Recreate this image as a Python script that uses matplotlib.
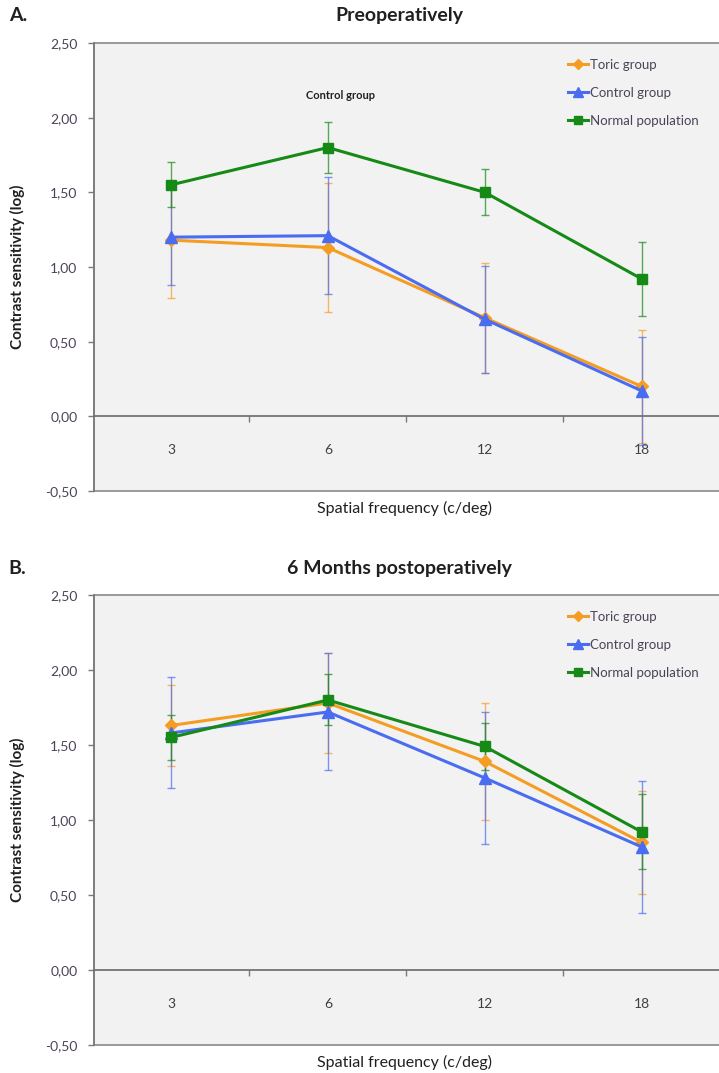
import matplotlib
matplotlib.use('Agg')
import matplotlib.pyplot as plt
from matplotlib.ticker import FuncFormatter, FixedLocator
import numpy as np

plt.rcParams['font.family'] = ['Lato', 'DejaVu Sans']

# spatial frequencies (c/deg)
freq_labels = ['3', '6', '12', '18']

# Preoperatively
pre_toric = [1.18, 1.13, 0.66, 0.20]
pre_toric_err = [0.39, 0.43, 0.37, 0.38]
pre_control = [1.20, 1.21, 0.65, 0.17]
pre_control_err = [0.32, 0.39, 0.36, 0.36]
pre_normal = [1.55, 1.80, 1.50, 0.92]
pre_normal_err = [0.15, 0.17, 0.155, 0.25]

# 6 months postoperatively
post_toric = [1.63, 1.78, 1.39, 0.85]
post_toric_err = [0.27, 0.335, 0.39, 0.345]
post_control = [1.58, 1.72, 1.28, 0.82]
post_control_err = [0.37, 0.39, 0.44, 0.44]
post_normal = [1.55, 1.80, 1.49, 0.92]
post_normal_err = [0.15, 0.17, 0.155, 0.25]

orange = '#f59d23'
blue = '#4a6cf0'
green = '#168a16'
txt_col = '#4d4358'

fig = plt.figure(figsize=(7.19, 10.73), dpi=100)
# plot area runs off the right edge of the image, as in the original
ax_a = fig.add_axes([0.1307, 0.5424, 0.8733, 0.4175])
ax_b = fig.add_axes([0.1307, 0.0261, 0.8733, 0.4194])

x = np.arange(1, len(freq_labels) + 1)


def draw_panel(ax, toric, toric_err, control, control_err, normal, normal_err):
    series = [
        (toric, toric_err, orange, 'D', 6, 'Toric group'),
        (control, control_err, blue, '^', 9, 'Control group'),
        (normal, normal_err, green, 's', 7, 'Normal population'),
    ]
    handles = []
    for vals, errs, col, mk, ms, lab in series:
        ax.errorbar(x, vals, yerr=errs, fmt='none', ecolor=col, elinewidth=1.0,
                    capsize=3, capthick=1.0, alpha=0.7, zorder=2)
        h, = ax.plot(x, vals, color=col, lw=2.2, marker=mk, markersize=ms,
                     markeredgecolor=col, label=lab, zorder=3)
        handles.append(h)

    ax.set_xlim(0.51, 4.51)
    ax.set_ylim(-0.5, 2.5)
    ax.set_facecolor('#f2f2f2')
    ax.patch.set_edgecolor('#8a8a8a')
    ax.patch.set_linewidth(1.2)

    for s in ['top', 'right']:
        ax.spines[s].set_visible(False)
    ax.spines['left'].set_color('#7a7a7a')
    ax.spines['left'].set_linewidth(1.2)
    ax.spines['bottom'].set_position(('data', 0))
    ax.spines['bottom'].set_color('#6a6a6a')
    ax.spines['bottom'].set_linewidth(1.2)

    ax.set_yticks(np.arange(-0.5, 2.51, 0.5))
    ax.yaxis.set_major_formatter(FuncFormatter(lambda v, p: f'{v:.2f}'.replace('.', ',')))
    ax.tick_params(axis='y', direction='out', length=4, width=1, color='#7a7a7a',
                   labelsize=10, labelcolor=txt_col, pad=8)

    ax.xaxis.set_major_locator(FixedLocator(x))
    ax.set_xticklabels(freq_labels)
    ax.xaxis.set_minor_locator(FixedLocator([1.5, 2.5, 3.5]))
    ax.tick_params(axis='x', which='major', length=0, labelsize=10,
                   labelcolor='#404040', pad=20)
    ax.tick_params(axis='x', which='minor', direction='out', length=4,
                   width=1, color='#7a7a7a')

    ax.set_ylabel('Contrast sensitivity (log)', fontsize=11, fontweight='bold',
                  color='#202020', labelpad=14)
    ax.text(0.495, -0.038, 'Spatial frequency (c/deg)', transform=ax.transAxes,
            ha='center', va='center', fontsize=11.5, color='#202020')

    ax.legend(handles=handles, loc='upper left', bbox_to_anchor=(0.74, 0.985),
              frameon=False, fontsize=9.5, labelspacing=1.2, handlelength=1.5,
              handletextpad=0.15, borderpad=0.2, labelcolor=txt_col,
              markerscale=0.8)


draw_panel(ax_a, pre_toric, pre_toric_err, pre_control, pre_control_err,
           pre_normal, pre_normal_err)
draw_panel(ax_b, post_toric, post_toric_err, post_control, post_control_err,
           post_normal, post_normal_err)

ax_a.text(0.392, 0.882, 'Control group', transform=ax_a.transAxes, ha='center',
          va='center', fontsize=8, fontweight='bold', color='#202020')

fig.text(0.556, 0.986, 'Preoperatively', ha='center', va='center',
         fontsize=14, fontweight='bold', color='#202020')
fig.text(0.012, 0.986, 'A.', ha='left', va='center', fontsize=14,
         fontweight='bold', color='#202020')
fig.text(0.556, 0.4706, '6 Months postoperatively', ha='center', va='center',
         fontsize=14, fontweight='bold', color='#202020')
fig.text(0.012, 0.4706, 'B.', ha='left', va='center', fontsize=14,
         fontweight='bold', color='#202020')

fig.savefig('out.png', dpi=100, facecolor='white')
